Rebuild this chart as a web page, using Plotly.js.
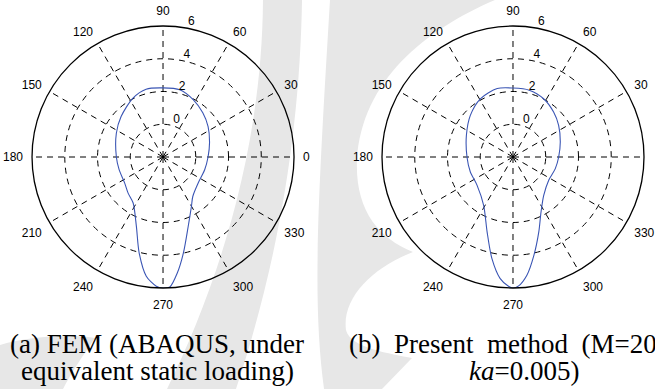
<!DOCTYPE html>
<html>
<head>
<meta charset="utf-8">
<script src="https://cdn.plot.ly/plotly-3.0.1.min.js"></script>
<style>html,body{margin:0;padding:0;background:#fff;}#chart{width:655px;height:389px;}</style>
</head>
<body>
<div id="chart"></div>
<script>
// (a) FEM (ABAQUS) directivity pattern
const thetaA = [0, 17, 34, 48, 62, 76, 90, 104, 117, 136, 153, 180, 196, 214, 226, 237, 249, 256, 262, 267, 270, 273, 277, 282, 290, 300, 307, 326, 343, 360];
const rA     = [0.75, 0.97, 1.32, 1.63, 1.95, 2.23, 2.22, 2.27, 2.04, 1.56, 1.20, 0.85, 0.79, 0.83, 1.07, 1.35, 2.54, 4.03, 5.35, 5.9, 6.0, 5.95, 5.14, 3.99, 2.5, 1.47, 1.02, 0.65, 0.66, 0.75];
// (b) Present method
const thetaB = [0, 17.6, 34.7, 47.9, 62.3, 76.4, 90, 103, 119, 135.7, 155, 180, 199, 218, 238.7, 251, 258.3, 264, 268, 270, 272.5, 276.7, 282, 289, 297, 308.7, 327, 344.6, 360];
const rB     = [0.79, 1.03, 1.39, 1.70, 2.02, 2.20, 2.21, 2.29, 2.08, 1.64, 1.14, 0.81, 0.76, 0.79, 1.45, 2.85, 4.34, 5.47, 5.9, 6.0, 5.88, 5.27, 4.14, 2.84, 1.77, 1.0, 0.60, 0.68, 0.79];
const angTicks = [0, 30, 60, 90, 120, 150, 180, 210, 240, 270, 300, 330];
const angLabelsA = ['0', '30', '60', '90', '120', '150', '180', '210', '240', '270', '300', '330'];
const angLabelsB = ['', '30', '60', '90', '120', '150', '180', '210', '240', '270', '300', '330'];
const radTicks = [0, 2, 4, 6];
const radLabels = ['0', '2', '4', '6'];
const radLabelAngle = [72, 76, 78, 79];

const lineColor = '#3a55b4';
const tickFont = {family:'Liberation Sans, Arial, sans-serif', size:12, color:'#000'};

function curve(r, th, sp){
  return {type:'scatterpolar', r:r, theta:th, mode:'lines', subplot:sp,
          line:{color:lineColor, width:1.1, shape:'spline', smoothing:0.8}, hoverinfo:'skip'};
}
function radLabelTrace(sp){
  return {type:'scatterpolar', r:radTicks, theta:radLabelAngle, mode:'text', text:radLabels,
          textposition:'top right', textfont:tickFont, subplot:sp, cliponaxis:false, hoverinfo:'skip'};
}
const traces = [curve(rA, thetaA, 'polar'), curve(rB, thetaB, 'polar2'), radLabelTrace('polar'), radLabelTrace('polar2')];

function polarCfg(xd, angLabels){
  return {
    domain:{x:xd, y:[0.2596, 0.9332]},
    bgcolor:'rgba(0,0,0,0)',
    radialaxis:{
      range:[-2, 6], tickvals:radTicks, showticklabels:false, angle:80,
      showline:false, ticks:'', showgrid:true, gridcolor:'#000', gridwidth:1, griddash:'6px,5px'
    },
    angularaxis:{
      rotation:0, direction:'counterclockwise', tickvals:angTicks, ticktext:angLabels,
      showline:true, linecolor:'#000', linewidth:1.3, showgrid:true, gridcolor:'#000', gridwidth:1, griddash:'6px,5px',
      ticks:'outside', ticklen:6, tickcolor:'rgba(0,0,0,0)', tickfont:tickFont
    }
  };
}

// faint background watermark (pixel path converted to paper units)
function px2paper(d){
  return d.replace(/(-?\d+(?:\.\d+)?),(-?\d+(?:\.\d+)?)/g, (m, x, y) => (x/655).toFixed(4) + ',' + (1 - y/389).toFixed(4));
}
const wmColor = '#e7e7e7';
const wmPaths = [
  'M263,0 L302,0 C300,120 282,250 236,389 L167,389 C218,285 262,150 263,0 Z',
  'M330,0 L495,0 C425,30 362,80 357,160 C355,210 378,238 413,252 C372,268 342,298 346,330 C350,348 392,354 412,358 L382,389 L324,389 C312,300 318,200 330,0 Z',
  'M0,345 C30,336 70,334 95,338 C80,360 70,375 63,389 L0,389 Z'
];
const shapes = wmPaths.map(p => ({type:'path', xref:'paper', yref:'paper', path:px2paper(p), fillcolor:wmColor, line:{width:0}, layer:'below'}));

const capFont = {family:'Liberation Serif, Times New Roman, serif', size:27, color:'#000'};
const layout = {
  width:655, height:389,
  margin:{l:0, r:0, t:0, b:0},
  paper_bgcolor:'#fff',
  showlegend:false,
  shapes: shapes,
  polar: polarCfg([0.0489, 0.4489], angLabelsA),
  polar2: polarCfg([0.5832, 0.9832], angLabelsB),
  annotations:[
    {xref:'paper', yref:'paper', x:157/655, y:1-344/389, xanchor:'center', yanchor:'middle', showarrow:false, text:'(a) FEM (ABAQUS, under', font:capFont},
    {xref:'paper', yref:'paper', x:157/655, y:1-371/389, xanchor:'center', yanchor:'middle', showarrow:false, text:'equivalent static loading)', font:capFont},
    {xref:'paper', yref:'paper', x:347/655, y:1-344/389, xanchor:'left', yanchor:'middle', showarrow:false, text:'(b)\u00A0 Present\u00A0 method\u00A0 (M=20,', font:capFont},
    {xref:'paper', yref:'paper', x:524/655, y:1-371/389, xanchor:'center', yanchor:'middle', showarrow:false, text:'<i>ka</i>=0.005)', font:capFont}
  ]
};

Plotly.newPlot('chart', traces, layout, {staticPlot:true, displayModeBar:false});
</script>
</body>
</html>
